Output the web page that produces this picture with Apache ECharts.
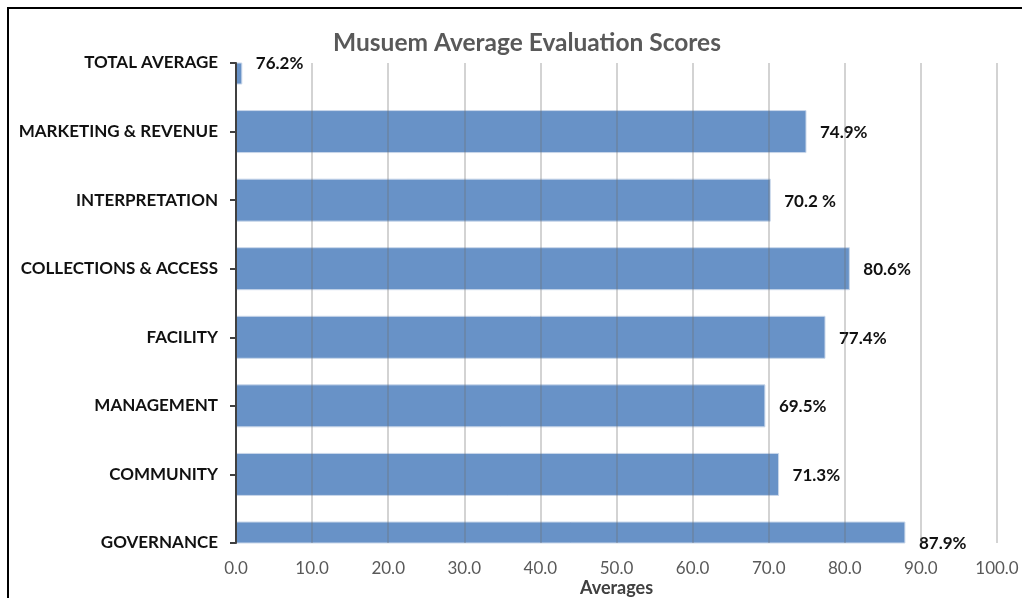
<!DOCTYPE html>
<html>
<head>
<meta charset="utf-8">
<script src="https://cdn.jsdelivr.net/npm/echarts@6/dist/echarts.min.js"></script>
<style>
html,body{margin:0;padding:0;background:#fff;}
#frame{position:absolute;left:7px;top:7px;width:1100px;height:700px;border:2px solid #000;box-sizing:border-box;}
#chart{position:absolute;left:0;top:0;width:1022px;height:598px;}
</style>
</head>
<body>
<div id="frame"></div>
<div id="chart"></div>
<script>
// Categories listed top to bottom
const categories = ["TOTAL AVERAGE", "MARKETING & REVENUE", "INTERPRETATION", "COLLECTIONS & ACCESS", "FACILITY", "MANAGEMENT", "COMMUNITY", "GOVERNANCE"];
const values = [0.762, 74.9, 70.2, 80.6, 77.4, 69.5, 71.3, 87.9];
const valueLabels = ["76.2%", "74.9%", "70.2 %", "80.6%", "77.4%", "69.5%", "71.3%", "87.9%"];
const xTicks = [0, 10, 20, 30, 40, 50, 60, 70, 80, 90, 100];
const titleText = "Musuem Average Evaluation Scores";
const xName = "Averages";

const FONT = "Lato, 'Open Sans', sans-serif";
const BAR_H = 42;
const chart = echarts.init(document.getElementById('chart'), null, {renderer: 'canvas'});
chart.setOption({
  backgroundColor: 'transparent',
  animation: false,
  title: {
    text: titleText,
    left: 522, textAlign: 'center', top: 26,
    textStyle: {fontFamily: FONT, fontSize: 24.5, fontWeight: 'bold', color: '#595959'}
  },
  grid: {left: 236, right: 25, top: 63, bottom: 55, containLabel: false, outerBoundsMode: 'none'},
  xAxis: {
    type: 'value', min: xTicks[0], max: xTicks[xTicks.length - 1], interval: 10,
    z: 5,
    name: xName, nameLocation: 'middle', nameGap: 36, nameMoveOverlap: false,
    nameTextStyle: {fontFamily: FONT, fontSize: 18, fontWeight: 'bold', color: '#404040'},
    axisLine: {show: false}, axisTick: {show: false},
    axisLabel: {fontFamily: FONT, fontSize: 17, color: '#595959', margin: 17,
      formatter: v => v.toFixed(1)},
    splitLine: {show: true, lineStyle: {color: 'rgba(110,110,110,0.3)', width: 2}}
  },
  yAxis: {
    type: 'category', data: categories, inverse: true, boundaryGap: false,
    z: 6,
    axisLine: {show: true, lineStyle: {color: '#404040', width: 2}},
    axisTick: {show: true, length: 6, alignWithLabel: true, lineStyle: {color: '#404040', width: 2}},
    axisLabel: {fontFamily: FONT, fontSize: 17, fontWeight: 'bold', color: '#111', margin: 18},
    splitLine: {show: false}
  },
  series: [{
    // bars, clipped to the plot area like the original
    type: 'custom',
    data: values.map((v, i) => [i, v]),
    encode: {y: 0, x: 1},
    renderItem: (params, api) => {
      const cat = api.value(0), val = api.value(1);
      const p0 = api.coord([0, cat]);
      const p1 = api.coord([val, cat]);
      const cs = params.coordSys;
      const shape = echarts.graphic.clipRectByRect(
        {x: p0[0], y: p0[1] - BAR_H / 2, width: p1[0] - p0[0], height: BAR_H},
        {x: cs.x, y: cs.y, width: cs.width, height: cs.height});
      if (!shape) return null;
      return {type: 'rect', shape: shape,
        style: {fill: '#6892c7', stroke: '#c9d7ea', lineWidth: 1}};
    }
  }, {
    // value labels
    type: 'bar', data: values, barWidth: BAR_H, silent: true,
    itemStyle: {color: 'rgba(0,0,0,0)', borderWidth: 0},
    label: {
      show: true, position: 'right', distance: 14, offset: [0, 1],
      fontFamily: FONT, fontSize: 17, fontWeight: 'bold', color: '#111',
      formatter: p => valueLabels[p.dataIndex]
    }
  }]
});
</script>
</body>
</html>
